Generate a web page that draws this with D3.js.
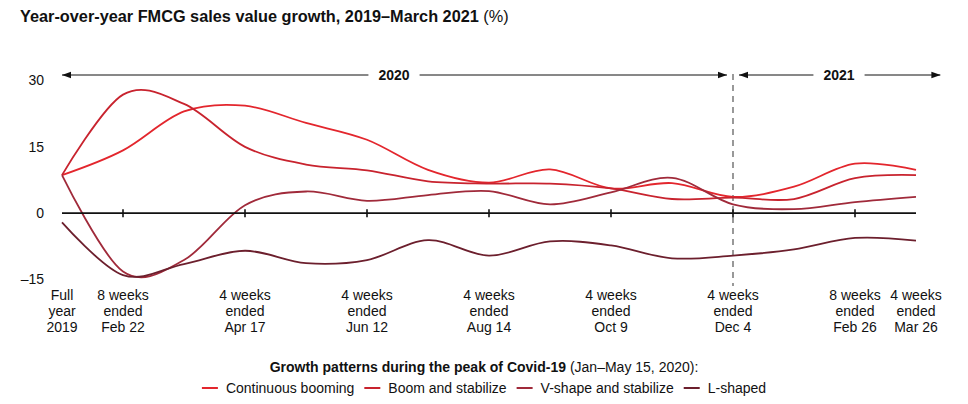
<!DOCTYPE html>
<html>
<head>
<meta charset="utf-8">
<script src="https://cdn.jsdelivr.net/npm/d3@7/dist/d3.min.js"></script>
<style>
  html, body { margin: 0; padding: 0; background: #fff; }
  svg { display: block; font-family: "Liberation Sans", Arial, sans-serif; }
</style>
</head>
<body>
<svg id="chart" width="968" height="404"></svg>
<script>
// ---- data ----
const periods = [
  ["Full", "year", "2019"],
  ["8 weeks", "ended", "Feb 22"],
  ["4 weeks", "ended", "Mar 21"],
  ["4 weeks", "ended", "Apr 17"],
  ["4 weeks", "ended", "May 15"],
  ["4 weeks", "ended", "Jun 12"],
  ["4 weeks", "ended", "Jul 10"],
  ["4 weeks", "ended", "Aug 14"],
  ["4 weeks", "ended", "Sep 11"],
  ["4 weeks", "ended", "Oct 9"],
  ["4 weeks", "ended", "Nov 6"],
  ["4 weeks", "ended", "Dec 4"],
  ["4 weeks", "ended", "Jan 1"],
  ["8 weeks", "ended", "Feb 26"],
  ["4 weeks", "ended", "Mar 26"]
];
const labeledPeriods = [0, 1, 3, 5, 7, 9, 11, 13, 14];
const tickPeriods = [1, 3, 5, 7, 9, 11, 13];
const yTicks = [30, 15, 0, -15];

const continuousBooming = [8.6, 14.2, 23.0, 24.3, 20.4, 16.6, 9.8, 6.9, 9.9, 5.6, 6.8, 3.7, 6.0, 11.2, 9.8];
const boomAndStabilize  = [8.6, 26.8, 24.7, 15.0, 11.0, 9.7, 7.2, 6.7, 6.7, 5.6, 3.2, 3.5, 3.2, 7.9, 8.6];
const vShape            = [8.6, -13.2, -10.6, 1.8, 4.9, 2.8, 4.1, 5.0, 2.0, 4.7, 8.0, 2.0, 0.9, 2.5, 3.7];
const lShaped           = [-2.1, -14.0, -11.5, -8.5, -11.3, -10.6, -6.1, -9.6, -6.4, -7.3, -10.2, -9.6, -8.2, -5.6, -6.2];

const seriesNames = ["Continuous booming", "Boom and stabilize", "V-shape and stabilize", "L-shaped"];
const seriesValues = [continuousBooming, boomAndStabilize, vShape, lShaped];
const seriesColors = ["#e3262d", "#c8232e", "#a02a3a", "#6c1f2d"];

const yearBands = [
  { label: "2020", from: 0, to: 11 },
  { label: "2021", from: 11, to: 14.4 }
];

// ---- chart ----
const svg = d3.select("#chart");
const x = d3.scaleLinear().domain([0, 14]).range([62, 916]);
const y = d3.scaleLinear().domain([-15, 30]).range([279.5, 80.5]);

// title
const title = svg.append("text").attr("x", 20).attr("y", 22)
  .attr("font-size", 16.3).attr("fill", "#111");
title.append("tspan").attr("font-weight", "bold").text("Year-over-year FMCG sales value growth, 2019–March 2021");
title.append("tspan").text(" (%)");

// y tick labels
svg.append("g").selectAll("text").data(yTicks).join("text")
  .attr("x", 44).attr("y", d => y(d)).attr("dy", "0.35em")
  .attr("text-anchor", "end").attr("font-size", 14).attr("fill", "#111")
  .text(d => d < 0 ? "–" + Math.abs(d) : d);

// dashed divider at Dec 4
svg.append("line")
  .attr("x1", x(11)).attr("x2", x(11))
  .attr("y1", 74).attr("y2", 286)
  .attr("stroke", "#555").attr("stroke-width", 1.2)
  .attr("stroke-dasharray", "6,5");

// year arrows
const defs = svg.append("defs");
defs.append("marker").attr("id", "arr").attr("viewBox", "0 0 10 10")
  .attr("refX", 10).attr("refY", 5).attr("markerWidth", 9).attr("markerHeight", 9)
  .attr("markerUnits", "userSpaceOnUse").attr("orient", "auto-start-reverse")
  .append("path").attr("d", "M0,1.5 L10,5 L0,8.5 Z").attr("fill", "#111");

const arrowY = 75;
const bandPx = [[x(0), x(11) - 6], [x(11) + 6, x(14.4)]];
yearBands.forEach((b, i) => {
  const [a, c] = bandPx[i];
  const mid = i === 0 ? 394 : 839;
  const g = svg.append("g");
  const t = g.append("text").attr("x", mid).attr("y", arrowY).attr("dy", "0.35em")
    .attr("text-anchor", "middle").attr("font-weight", "bold").attr("font-size", 14)
    .attr("fill", "#111").text(b.label);
  const w = t.node().getComputedTextLength();
  g.append("line").attr("x1", mid - w / 2 - 10).attr("x2", a)
    .attr("y1", arrowY).attr("y2", arrowY).attr("stroke", "#111").attr("stroke-width", 1)
    .attr("marker-end", "url(#arr)");
  g.append("line").attr("x1", mid + w / 2 + 10).attr("x2", c)
    .attr("y1", arrowY).attr("y2", arrowY).attr("stroke", "#111").attr("stroke-width", 1)
    .attr("marker-end", "url(#arr)");
});

// series lines
const line = d3.line()
  .x((d, i) => x(i)).y(d => y(d))
  .curve(d3.curveCardinal.tension(0));

svg.append("g").selectAll("path").data(seriesValues).join("path")
  .attr("d", d => line(d))
  .attr("fill", "none")
  .attr("stroke", (d, i) => seriesColors[i])
  .attr("stroke-width", 1.8);

// zero axis
svg.append("line").attr("x1", x(0)).attr("x2", x(14))
  .attr("y1", y(0)).attr("y2", y(0)).attr("stroke", "#111").attr("stroke-width", 1.8);
svg.append("g").selectAll("line").data(tickPeriods).join("line")
  .attr("x1", d => x(d)).attr("x2", d => x(d))
  .attr("y1", y(0) - 4).attr("y2", y(0) + 4)
  .attr("stroke", "#111").attr("stroke-width", 1.6);

// x labels
const xl = svg.append("g").selectAll("text").data(labeledPeriods).join("text")
  .attr("text-anchor", "middle").attr("font-size", 14).attr("fill", "#111")
  .attr("x", d => x(d)).attr("y", 300);
xl.selectAll("tspan").data(d => periods[d]).join("tspan")
  .attr("x", function () { return d3.select(this.parentNode).attr("x"); })
  .attr("dy", (d, i) => i === 0 ? 0 : 16)
  .text(d => d);

// legend
const lt = svg.append("text").attr("x", 484).attr("y", 372)
  .attr("text-anchor", "middle").attr("font-size", 14).attr("fill", "#111");
lt.append("tspan").attr("font-weight", "bold").text("Growth patterns during the peak of Covid-19");
lt.append("tspan").text(" (Jan–May 15, 2020):");

const lg = svg.append("g");
let cx = 0;
seriesNames.forEach((n, i) => {
  const g = lg.append("g");
  g.append("line").attr("x1", 0).attr("x2", 16).attr("y1", 0).attr("y2", 0)
    .attr("stroke", seriesColors[i]).attr("stroke-width", 2);
  const t = g.append("text").attr("x", 24).attr("y", 0).attr("dy", "0.35em")
    .attr("font-size", 14).attr("fill", "#111").text(n);
  const w = 24 + t.node().getComputedTextLength();
  g.attr("transform", `translate(${cx},0)`);
  cx += w + 10;
});
const total = cx - 10;
lg.attr("transform", `translate(${484 - total / 2},388)`);
</script>
</body>
</html>
